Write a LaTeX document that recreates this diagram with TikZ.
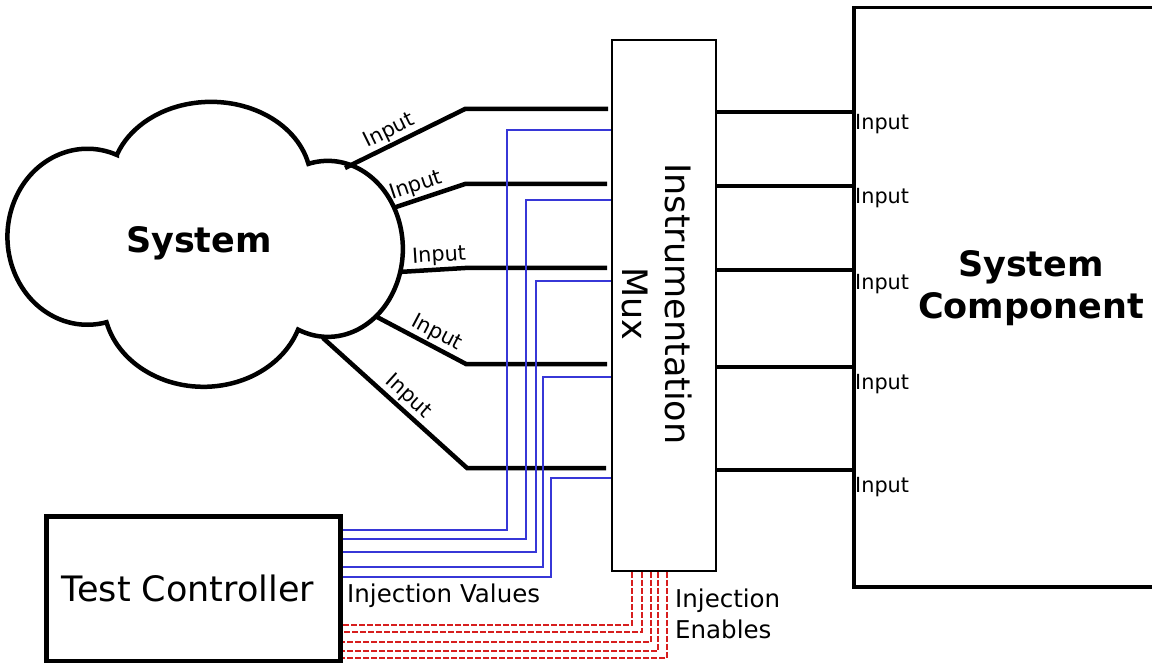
\documentclass[tikz,border=0pt]{standalone}
\usepackage{fontspec}
\setmainfont{DejaVu Sans}
\usetikzlibrary{calc}

\definecolor{valblue}{RGB}{55,55,215}
\definecolor{enred}{RGB}{215,30,30}

\begin{document}
\begin{tikzpicture}[x=1pt,y=1pt,
  thickwire/.style={line width=4.5pt},
  valwire/.style={draw=valblue, line width=1.6pt},
  enwire/.style={draw=enred, line width=1.3pt, dash pattern=on 6pt off 2pt},
  portlbl/.style={font=\fontsize{20.8}{25}\selectfont, inner sep=1.5pt},
  sidelbl/.style={font=\fontsize{24.5}{30}\selectfont, inner sep=0pt},
  biglbl/.style={font=\fontsize{35}{44}\selectfont, inner sep=0pt},
  boldlbl/.style={font=\fontsize{35}{44}\selectfont\bfseries, inner sep=0pt},
  blockbox/.style={draw, fill=white, inner sep=0pt, anchor=north west}
]
\useasboundingbox (0,0) rectangle (1152,-663);
\clip (0,0) rectangle (1152,-663);

% the system cloud: four elliptic lobes
\draw[line width=4.5pt, fill=white] (117,-155)
  arc[start angle=68.3, end angle=283.8, x radius=80, y radius=88]
  arc[start angle=193.9, end angle=340.9, x radius=100, y radius=85]
  arc[start angle=246.6, end angle=465, x radius=75, y radius=88]
  arc[start angle=13, end angle=160, x radius=100, y radius=80]
  -- cycle;
\node[boldlbl, anchor=base] (sys) at (199,-253) {System};

% blocks
\node[blockbox, line width=1.8pt, minimum width=104pt, minimum height=531pt] (mux) at (611,-39) {};
\node[biglbl, rotate=-90, anchor=base] (muxname) at (665,-304) {Instrumentation};
\node[biglbl, rotate=-90, anchor=base] (muxname2) at (622,-304) {Mux};

\node[blockbox, line width=3.5pt, minimum width=330pt, minimum height=579pt] (comp) at (852,-6) {};
\node[boldlbl, align=center, anchor=base] (compname) at (1031,-319) {System\\[-1pt]Component};

\node[blockbox, line width=4.5pt, minimum width=294pt, minimum height=145pt] (tc) at (44,-514) {};
\node[biglbl, anchor=base] (tcname) at (188,-601) {Test Controller};

% outputs of the system cloud
\coordinate (s1) at (345,-168);  \coordinate (k1) at (465,-109);
\coordinate (s2) at (393,-208);  \coordinate (k2) at (465,-184);
\coordinate (s3) at (399,-272);  \coordinate (k3) at (465,-268);
\coordinate (s4) at (377,-317);  \coordinate (k4) at (466,-364);
\coordinate (s5) at (323,-338);  \coordinate (k5) at (467,-468);

\draw[thickwire] (s1) -- node[portlbl, sloped, above, pos=0.42] (in1) {Input} (k1) -- ($(k1 -| mux.west)+(-3,0)$);
\draw[thickwire] (s2) -- node[portlbl, sloped, above, pos=0.38] (in2) {Input} (k2) -- ($(k2 -| mux.west)+(-4,0)$);
\draw[thickwire] (s3) -- node[portlbl, sloped, above, pos=0.62] (in3) {Input} (k3) -- ($(k3 -| mux.west)+(-4,0)$);
\draw[thickwire] (s4) -- node[portlbl, sloped, above, pos=0.60] (in4) {Input} (k4) -- ($(k4 -| mux.west)+(-4,0)$);
\draw[thickwire] (s5) -- node[portlbl, sloped, above, pos=0.53] (in5) {Input} (k5) -- ($(k5 -| mux.west)+(-5,0)$);

% mux outputs into the component
\foreach \y/\b [count=\i] in {112/130, 186/204, 270/290, 367/389, 470/492} {
  \draw[thickwire] (mux.east |- 0,-\y) -- (comp.west |- 0,-\y);
  \node[portlbl, inner sep=0pt, anchor=base west] (cin\i) at (855,-\b) {Input};
}

% injection values
\foreach \ty/\vx/\my in {530/507/130, 539/526/200, 552/536/281, 567/543/377, 577/551/478} {
  \draw[valwire] (tc.east |- 0,-\ty) -| (\vx,-\my) -- (mux.west |- 0,-\my);
}
\node[sidelbl, anchor=base west] (injval) at (347,-602) {Injection Values};

% injection enables
\foreach \vx/\ty in {632/625, 642/632, 651/642, 658/651, 667/658} {
  \draw[enwire] (\vx,0 |- mux.south) |- (tc.east |- 0,-\ty);
}
\node[sidelbl, align=left, anchor=base west] (injen) at (675,-638) {Injection\\[1pt]Enables};
\end{tikzpicture}
\end{document}
